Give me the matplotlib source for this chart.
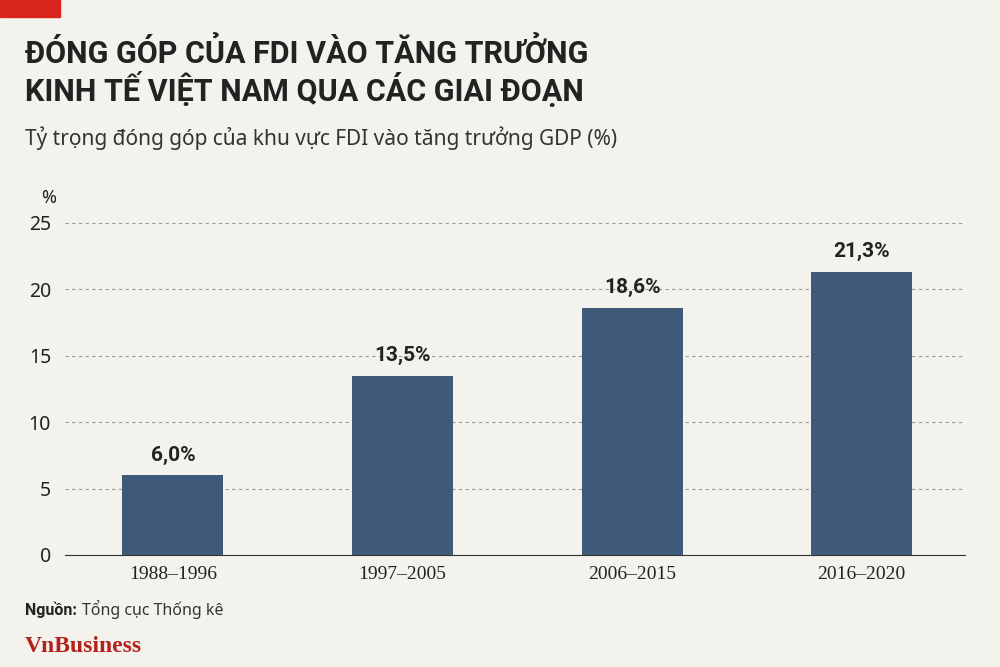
import matplotlib
matplotlib.use("Agg")
import matplotlib.pyplot as plt
from matplotlib.patches import Rectangle

categories = ["1988–1996", "1997–2005", "2006–2015", "2016–2020"]
values = [6.0, 13.5, 18.6, 21.3]
labels = ["6,0%", "13,5%", "18,6%", "21,3%"]
yticks = [0, 5, 10, 15, 20, 25]

bg = "#f4f2ed"
fig = plt.figure(figsize=(10, 6.67), dpi=100, facecolor=bg)
ax = fig.add_axes([0.065, 0.168, 0.9, 0.498])
ax.set_facecolor(bg)
x = range(len(categories))
ax.bar(x, values, width=0.44, color="#3e5a78", zorder=3)
for i, (v, l) in enumerate(zip(values, labels)):
    ax.text(i, v + 0.8, l, ha="center", va="bottom", fontsize=15, fontweight="bold",
            family="Roboto", color="#222222")
ax.set_ylim(0, 25)
ax.set_xlim(-0.47, 3.45)
ax.set_yticks(yticks)
ax.set_yticklabels([str(t) for t in yticks], fontsize=14, family="Noto Sans", color="#222")
ax.set_xticks(list(x))
ax.set_xticklabels(categories, fontsize=14, family="Liberation Serif", color="#222")
ax.yaxis.grid(True, linestyle=(0, (3, 3)), color="#999999", linewidth=0.8, zorder=0)
for s in ["top", "right", "left"]:
    ax.spines[s].set_visible(False)
ax.spines["bottom"].set_color("#333")
ax.tick_params(axis="y", length=0, pad=10)
ax.tick_params(axis="x", length=0, pad=8)
ax.text(-0.027, 1.06, "%", transform=ax.transAxes, fontsize=13, family="Noto Sans", color="#222")

fig.patches.append(Rectangle((0.0, 0.975), 0.06, 0.025, transform=fig.transFigure, color="#d9251c"))
fig.text(0.025, 0.905, "ĐÓNG GÓP CỦA FDI VÀO TĂNG TRƯỞNG", fontsize=22, fontweight="bold",
         family="Roboto", color="#222")
fig.text(0.025, 0.848, "KINH TẾ VIỆT NAM QUA CÁC GIAI ĐOẠN", fontsize=22, fontweight="bold",
         family="Roboto", color="#222")
fig.text(0.025, 0.783, "Tỷ trọng đóng góp của khu vực FDI vào tăng trưởng GDP (%)", fontsize=15,
         family="Noto Sans", color="#333")
fig.text(0.025, 0.078, "Nguồn:", fontsize=11.5, fontweight="bold", family="Roboto", color="#222")
fig.text(0.082, 0.078, "Tổng cục Thống kê", fontsize=11.5, family="Noto Sans", color="#333")
fig.text(0.025, 0.022, "VnBusiness", fontsize=17, fontweight="bold", family="Liberation Serif",
         color="#b3211b")
fig.savefig("out.png", dpi=100, facecolor=bg)
